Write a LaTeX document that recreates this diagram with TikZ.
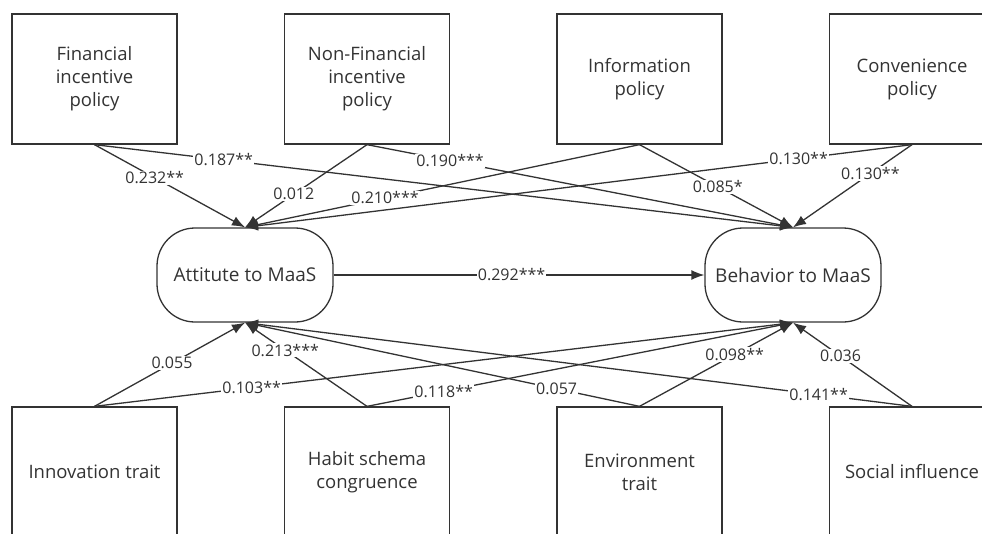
\documentclass[tikz,border=0pt]{standalone}
\usepackage{fontspec}
\setmainfont{Open Sans}
\usetikzlibrary{arrows.meta, positioning}
\definecolor{ink}{HTML}{333333}

\begin{document}
\begin{tikzpicture}[
            x = 1pt, y = -1pt,
            ->,
            > = {Latex[length=13pt, width=10pt]},
            line width = 1.3pt,
            color = ink,
            node distance = 272.5pt,
            on grid,
            box/.style = {draw, rectangle, minimum width = 165pt, minimum height = 130pt,
                align = center, font = \fontsize{18.5}{23}\selectfont},
            latent/.style = {draw, rectangle, rounded corners = 38pt, minimum width = 176pt,
                minimum height = 94pt, font = \fontsize{19}{23}\selectfont},
            coef/.style = {fill = white, inner sep = 1pt, font = \fontsize{16}{18}\selectfont}
        ]
        \useasboundingbox (0,0) rectangle (982,533);
        \clip (0,0) rectangle (982,533);

        % policies
        \node[box] (FIP) at (94.5,79) {Financial\\incentive\\policy};
        \node[box, right = of FIP] (NFP) {Non-Financial\\incentive\\policy};
        \node[box, right = of NFP] (IP) {Information\\policy};
        \node[box, right = of IP] (CP) {Convenience\\policy};

        % latent variables
        \node[latent] (ATT) at (245,275) {Attitute to MaaS};
        \node[latent, right = 548pt of ATT] (BEH) {Behavior to MaaS};

        % traits
        \node[box, below = 393pt of FIP] (IT) {Innovation trait};
        \node[box, right = of IT] (HSC) {Habit schema\\congruence};
        \node[box, right = of HSC] (ET) {Environment\\trait};
        \node[box, right = of ET] (SI) {Social influence};

        \path (ATT) edge node[coef, pos=.48] {0.292***} (BEH);

        \path (FIP.south) edge node[coef, pos=.40] {0.232**} (ATT.north);
        \path (FIP.south) edge node[coef, pos=.185] {0.187**} (BEH.north);
        \path (NFP.south) edge node[coef, pos=.60] {0.012} (ATT.north);
        \path (NFP.south) edge node[coef, pos=.195] {0.190***} (BEH.north);
        \path (IP.south) edge node[coef, pos=.645] {0.210***} (ATT.north);
        \path (IP.south) edge node[coef, pos=.51] {0.085*} (BEH.north);
        \path (CP.south) edge node[coef, pos=.17] {0.130**} (ATT.north);
        \path (CP.south) edge node[coef, pos=.35] {0.130**} (BEH.north);

        \path (IT.north) edge node[coef, pos=.515] {0.055} (ATT.south);
        \path (IT.north) edge node[coef, pos=.225] {0.103**} (BEH.south);
        \path (HSC.north) edge node[coef, pos=.67] {0.213***} (ATT.south);
        \path (HSC.north) edge node[coef, pos=.18] {0.118**} (BEH.south);
        \path (ET.north) edge node[coef, pos=.21] {0.057} (ATT.south);
        \path (ET.north) edge node[coef, pos=.62] {0.098**} (BEH.south);
        \path (SI.north) edge node[coef, pos=.14] {0.141**} (ATT.south);
        \path (SI.north) edge node[coef, pos=.60] {0.036} (BEH.south);
    \end{tikzpicture}
\end{document}
